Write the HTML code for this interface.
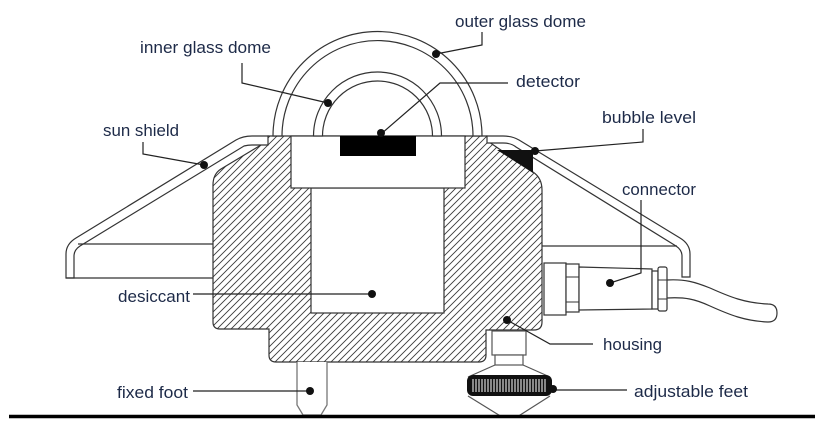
<!DOCTYPE html>
<html><head><meta charset="utf-8"><style>
html,body{margin:0;padding:0;background:#fff;}
svg{display:block;}
text{font-family:"Liberation Sans",sans-serif;font-size:17px;fill:#1d2a48;}
</style></head><body>
<svg width="826" height="431" viewBox="0 0 826 431" xmlns="http://www.w3.org/2000/svg">
<defs>
<pattern id="h" width="7" height="7" patternUnits="userSpaceOnUse">
<path d="M-1,1 L1,-1 M0,7 L7,0 M6,8 L8,6" stroke="#3a3a3a" stroke-width="0.9"/>
</pattern>
</defs>
<rect width="826" height="431" fill="#fff"/>

<!-- housing -->
<path d="M213,185 Q213,174 221,169 L266,142 L268,136 L487,136 L489,142 L533,172 Q542,178 542,190 L542,322 Q542,330 534,330 L486,330 L486,355 Q486,362 479,362 L276,362 Q269,362 269,355 L269,329 L220,329 Q213,329 213,322 Z" fill="url(#h)" stroke="#333" stroke-width="1.2"/>

<!-- cavities -->
<rect x="311" y="188" width="133" height="125" fill="#fff" stroke="#333" stroke-width="1.2"/>
<rect x="291" y="136" width="174" height="52" fill="#fff" stroke="#333" stroke-width="1.2"/>
<rect x="340" y="136" width="76" height="20" fill="#000"/>

<!-- domes -->
<path d="M273,136 A104.5,104.5 0 0 1 482,136 L473,136 A95.5,95.5 0 0 0 282,136 Z" fill="#fff" stroke="#333" stroke-width="1.2"/>
<path d="M313.5,136 A64,64 0 0 1 441.5,136 L432.5,136 A55,55 0 0 0 322.5,136 Z" fill="#fff" stroke="#333" stroke-width="1.2"/>

<!-- sun shield left -->
<path d="M268,136 L252,136 Q243,136 236,140 L76,238 Q66,244 66,254 L66,278 L74,278 L74,256 Q74,250 80,246 L244,146 Q248,145 252,145 L268,145 Z" fill="#fff" stroke="#333" stroke-width="1.2"/>
<line x1="78" y1="244" x2="213" y2="244" stroke="#333" stroke-width="1.2"/>
<line x1="66" y1="278" x2="213" y2="278" stroke="#333" stroke-width="1.2"/>

<!-- sun shield right -->
<path d="M487,136 L503,136 Q512,136 519,140 L680,238 Q690,244 690,254 L690,277 L682,277 L682,256 Q682,250 676,246 L516,147 Q511,143 503,143 L487,143 Z" fill="#fff" stroke="#333" stroke-width="1.2"/>
<line x1="542" y1="246" x2="677" y2="246" stroke="#333" stroke-width="1.2"/>
<!-- bubble level -->
<polygon points="497,150 533,150 533,173" fill="#111"/>

<!-- connector -->
<rect x="544" y="263" width="22" height="52" fill="#fff" stroke="#333" stroke-width="1.2"/>
<rect x="566" y="264" width="13" height="48" fill="#fff" stroke="#333" stroke-width="1.2"/>
<line x1="566" y1="277" x2="579" y2="277" stroke="#333" stroke-width="1"/>
<line x1="566" y1="302" x2="579" y2="302" stroke="#333" stroke-width="1"/>
<polygon points="579,267 652,269 652,309 579,310" fill="#fff" stroke="#333" stroke-width="1.2"/>
<rect x="652" y="271" width="6" height="38" fill="#fff" stroke="#333" stroke-width="1.2"/>
<rect x="658" y="267" width="9" height="44" rx="2" fill="#fff" stroke="#333" stroke-width="1.2"/>
<line x1="658" y1="280" x2="667" y2="280" stroke="#333" stroke-width="1"/>
<line x1="658" y1="299" x2="667" y2="299" stroke="#333" stroke-width="1"/>
<path d="M667,280 C685,279 695,282 710,288 C730,297 745,303 768,304 Q777,304 777,313 Q777,322 768,322 C745,321 730,315 710,306 C695,299 685,297 667,298" fill="none" stroke="#333" stroke-width="1.2"/>

<!-- fixed foot -->
<path d="M297,362 L297,405 L303,415 L321,415 L327,405 L327,362" fill="#fff" stroke="#777" stroke-width="1.3"/>

<!-- adjustable foot -->
<rect x="492" y="331" width="34" height="24" fill="#fff" stroke="#555" stroke-width="1.2"/>
<rect x="495" y="355" width="28" height="10" fill="#fff" stroke="#555" stroke-width="1.2"/>
<path d="M495,365 L468,377 M523,365 L550,377 M468,396 L502,417 M550,396 L517,417" stroke="#555" stroke-width="1.2" fill="none"/>
<rect x="467" y="375" width="85" height="21" rx="6" fill="#111"/>
<g stroke="#fff" stroke-width="1">
<line x1="473" y1="379" x2="473" y2="392"/><line x1="476" y1="379" x2="476" y2="392"/><line x1="479" y1="379" x2="479" y2="392"/><line x1="482" y1="379" x2="482" y2="392"/><line x1="485" y1="379" x2="485" y2="392"/><line x1="488" y1="379" x2="488" y2="392"/><line x1="491" y1="379" x2="491" y2="392"/><line x1="494" y1="379" x2="494" y2="392"/><line x1="497" y1="379" x2="497" y2="392"/><line x1="500" y1="379" x2="500" y2="392"/><line x1="503" y1="379" x2="503" y2="392"/><line x1="506" y1="379" x2="506" y2="392"/><line x1="509" y1="379" x2="509" y2="392"/><line x1="512" y1="379" x2="512" y2="392"/><line x1="515" y1="379" x2="515" y2="392"/><line x1="518" y1="379" x2="518" y2="392"/><line x1="521" y1="379" x2="521" y2="392"/><line x1="524" y1="379" x2="524" y2="392"/><line x1="527" y1="379" x2="527" y2="392"/><line x1="530" y1="379" x2="530" y2="392"/><line x1="533" y1="379" x2="533" y2="392"/><line x1="536" y1="379" x2="536" y2="392"/><line x1="539" y1="379" x2="539" y2="392"/><line x1="542" y1="379" x2="542" y2="392"/><line x1="545" y1="379" x2="545" y2="392"/>
</g>

<!-- ground -->
<line x1="9" y1="416.5" x2="815" y2="416.5" stroke="#000" stroke-width="3.5"/>

<!-- leader lines -->
<g fill="none" stroke="#222" stroke-width="1.2">
<path d="M436,54 L482,45 L482,32"/>
<path d="M328,103 L242,83 L242,63"/>
<path d="M381,134 L440,83 L508,83"/>
<path d="M535,151 L643,142 L643,129"/>
<path d="M204,165 L143,154 L143,142"/>
<path d="M610,283 L641,273 L641,200"/>
<path d="M193,294 L372,294"/>
<path d="M507,320 L550,344 L593,344"/>
<path d="M553,390 L627,390"/>
<path d="M193,391 L310,391"/>
</g>
<g fill="#111">
<circle cx="436" cy="54" r="4"/>
<circle cx="328" cy="103" r="4"/>
<circle cx="381" cy="133" r="4"/>
<circle cx="535" cy="151" r="4"/>
<circle cx="204" cy="165" r="4"/>
<circle cx="610" cy="283" r="4"/>
<circle cx="372" cy="294" r="4"/>
<circle cx="507" cy="320" r="4"/>
<circle cx="553" cy="389" r="4"/>
<circle cx="310" cy="391" r="4"/>
</g>

<!-- labels -->
<text x="455" y="27" textLength="131" lengthAdjust="spacingAndGlyphs">outer glass dome</text>
<text x="140" y="53" textLength="131" lengthAdjust="spacingAndGlyphs">inner glass dome</text>
<text x="516" y="87" textLength="64" lengthAdjust="spacingAndGlyphs">detector</text>
<text x="602" y="123" textLength="94" lengthAdjust="spacingAndGlyphs">bubble level</text>
<text x="103" y="136" textLength="76" lengthAdjust="spacingAndGlyphs">sun shield</text>
<text x="622" y="195" textLength="74" lengthAdjust="spacingAndGlyphs">connector</text>
<text x="118" y="302" textLength="72" lengthAdjust="spacingAndGlyphs">desiccant</text>
<text x="603" y="350" textLength="59" lengthAdjust="spacingAndGlyphs">housing</text>
<text x="634" y="397" textLength="114" lengthAdjust="spacingAndGlyphs">adjustable feet</text>
<text x="117" y="398" textLength="71" lengthAdjust="spacingAndGlyphs">fixed foot</text>
</svg>
</body></html>
